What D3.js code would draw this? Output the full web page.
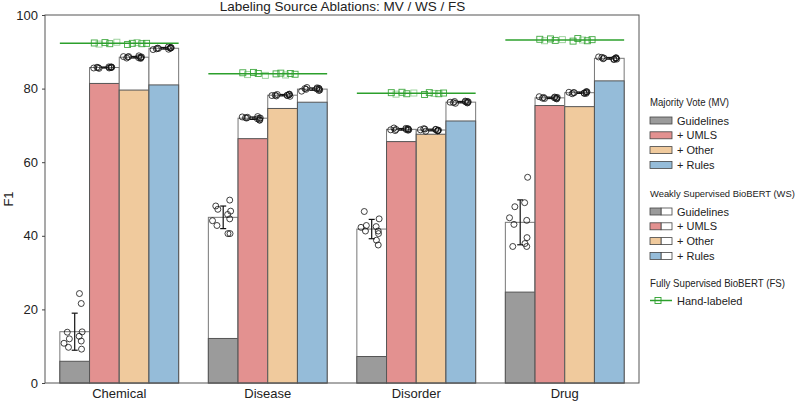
<!DOCTYPE html>
<html><head><meta charset="utf-8">
<script src="https://cdn.jsdelivr.net/npm/d3@7"></script>
<style>body{margin:0;background:#fff}svg{display:block;font-family:"Liberation Sans",Arial,sans-serif}</style>
</head><body><svg id="c" width="799" height="403"></svg>
<script>
const categories = ["Chemical","Disease","Disorder","Drug"];
const sources = ["Guidelines","+ UMLS","+ Other","+ Rules"];
const yTicks = [0,20,40,60,80,100];
// Majority vote F1 per category, per source
const mvValues = [
  [5.9,81.4,79.6,81.0],
  [12.1,66.4,74.6,76.3],
  [7.2,65.6,67.6,71.2],
  [24.7,75.4,75.1,82.1]
];
// Weakly supervised BioBERT runs (10 per bar)
const wsChemical = [
  [24.3,21.6,13.8,13.9,12.0,12.7,10.8,11.4,9.7,9.2],
  [85.8,85.5,85.9,85.6,85.8,85.7,85.9,85.6,85.7,85.8],
  [88.7,88.2,88.6,88.4,88.9,88.5,88.3,88.6,88.7,88.4],
  [91.2,90.7,91.0,90.8,91.1,90.9,91.3,90.6,91.0,91.0]
];
const wsDisease = [
  [49.7,48.1,46.7,47.2,45.8,44.1,44.6,42.8,40.6,40.6],
  [72.2,71.8,72.3,71.5,72.0,71.4,72.4,71.9,72.1,72.0],
  [78.4,78.0,78.5,78.1,78.3,78.2,77.9,78.4,78.2,78.1],
  [80.2,79.5,80.0,79.6,80.3,79.9,79.3,80.1,79.8,79.9]
];
const wsDisorder = [
  [46.6,44.6,42.8,42.5,42.3,41.3,41.3,40.6,38.8,37.5],
  [69.2,68.8,69.1,68.6,69.0,68.9,68.7,69.3,68.8,68.9],
  [69.0,68.6,68.9,68.5,69.1,68.7,68.4,68.9,68.8,68.6],
  [76.5,76.2,76.4,76.0,76.6,76.3,76.1,76.5,76.2,76.4]
];
const wsDrug = [
  [55.9,47.9,49.0,44.9,44.2,43.1,39.5,37.9,37.1,37.1],
  [77.8,77.3,77.6,77.2,77.7,77.5,77.4,77.6,77.3,77.5],
  [79.2,78.7,79.0,78.6,79.1,78.9,78.8,79.0,78.7,78.9],
  [88.5,88.0,88.3,87.9,88.6,88.2,88.1,88.4,88.0,88.3]
];
// Fully supervised BioBERT runs (hand-labeled)
const fsChemical = [92.4,92.1,92.5,92.2,92.6,92.0,92.3,92.5,92.2,92.3];
const fsDisease  = [84.3,83.8,84.4,84.1,83.6,84.0,84.2,83.7,84.1,83.9];
const fsDisorder = [78.9,78.5,79.0,78.6,78.8,78.4,78.9,78.7,78.6,78.8];
const fsDrug     = [93.4,93.0,93.5,93.1,93.3,92.9,93.6,93.2,93.0,93.3];

const wsRuns = [wsChemical, wsDisease, wsDisorder, wsDrug];
const fsRuns = [fsChemical, fsDisease, fsDisorder, fsDrug];

// style constants
const colors = ["#9b9b9b","#e39190","#f0ca9d","#95bcd9"];
const jitterWS = [0.16,0.22,-0.25,0.25,-0.18,0.15,-0.36,0.22,-0.21,0.23];
const jitterFS = [-0.21,-0.17,-0.12,-0.08,-0.02,0.07,0.11,0.15,0.19,0.23];

const svg = d3.select("#c");
const M = {l:45, r:639, t:15, b:383};
const x = d3.scaleBand().domain(categories).range([M.l, M.r]).paddingInner(0.2).paddingOuter(0.1);
const xs = d3.scaleBand().domain(sources).range([0, x.bandwidth()]);
const y = d3.scaleLinear().domain([0,100]).range([M.b, M.t]);

const mean = a => d3.mean(a);
const sd = a => d3.deviation(a);

const g = svg.append("g");
categories.forEach((cat, ci) => {
  const gx = x(cat);
  sources.forEach((src, si) => {
    const bx = gx + xs(src), bw = xs.bandwidth();
    const runs = wsRuns[ci][si];
    const m = mean(runs);
    g.append("rect").attr("x", bx).attr("y", y(m)).attr("width", bw).attr("height", y(0) - y(m))
      .attr("fill", "#fff").attr("stroke", "#777").attr("stroke-width", 1);
    const mv = mvValues[ci][si];
    g.append("rect").attr("x", bx).attr("y", y(mv)).attr("width", bw).attr("height", y(0) - y(mv))
      .attr("fill", colors[si]).attr("stroke", "#555").attr("stroke-width", 1);
  });
});
categories.forEach((cat, ci) => {
  const gx = x(cat);
  sources.forEach((src, si) => {
    const bx = gx + xs(src), bw = xs.bandwidth();
    const cx = bx + bw/2;
    const runs = wsRuns[ci][si];
    const m = mean(runs), s = sd(runs);
    g.selectAll(null).data(runs).enter().append("circle")
      .attr("cx", (d,i) => cx + jitterWS[(i + si*3 + ci) % 10]*bw)
      .attr("cy", d => y(d)).attr("r", 3)
      .attr("fill", "none").attr("stroke", "#111").attr("stroke-width", 0.8);
    g.append("line").attr("x1", cx).attr("x2", cx).attr("y1", y(m - s)).attr("y2", y(m + s))
      .attr("stroke", "#111").attr("stroke-width", 1.2);
    [m - s, m + s].forEach(v => g.append("line").attr("x1", cx - 3).attr("x2", cx + 3)
      .attr("y1", y(v)).attr("y2", y(v)).attr("stroke", "#111").attr("stroke-width", 1.2));
  });
  const fr = fsRuns[ci], fm = mean(fr);
  g.append("line").attr("x1", gx).attr("x2", gx + x.bandwidth()).attr("y1", y(fm)).attr("y2", y(fm))
    .attr("stroke", "#2ca02c").attr("stroke-width", 1.5);
  g.selectAll(null).data(fr).enter().append("rect")
    .attr("x", (d,i) => gx + x.bandwidth()/2 + jitterFS[i]*x.bandwidth() - 3)
    .attr("y", d => y(d) - 3).attr("width", 6).attr("height", 6)
    .attr("fill", "none").attr("stroke", "#2ca02c").attr("stroke-width", 0.9)
    .attr("stroke-opacity", (d,i) => i % 3 === 1 ? 0.5 : 0.9);
});

svg.append("rect").attr("x", M.l).attr("y", M.t).attr("width", M.r - M.l).attr("height", M.b - M.t)
  .attr("fill", "none").attr("stroke", "#555").attr("stroke-width", 1);

const ya = svg.append("g").attr("transform", `translate(${M.l},0)`)
  .call(d3.axisLeft(y).tickValues(yTicks).tickSize(3).tickPadding(4));
ya.select(".domain").remove();
ya.selectAll("text").attr("font-size", 13).attr("fill", "#222").style("font-family", '"Liberation Sans",Arial,sans-serif');
ya.selectAll("line").attr("stroke", "#444");

const xa = svg.append("g").attr("transform", `translate(0,${M.b})`)
  .call(d3.axisBottom(x).tickSize(0).tickPadding(6));
xa.select(".domain").remove();
xa.selectAll("text").attr("font-size", 13).attr("fill", "#222").style("font-family", '"Liberation Sans",Arial,sans-serif');

svg.append("text").attr("x", 342.5).attr("y", 11).attr("text-anchor", "middle")
  .attr("font-size", 13.5).attr("fill", "#222").text("Labeling Source Ablations: MV / WS / FS");
svg.append("text").attr("transform", "translate(13,199) rotate(-90)").attr("text-anchor", "middle")
  .attr("font-size", 13).attr("fill", "#222").text("F1");

const L = svg.append("g");
const lx = 650, tx = 677;
const fs = 11;
L.append("text").attr("x", lx).attr("y", 106).attr("font-size", 10.5).attr("fill", "#222")
  .attr("textLength", 79).attr("lengthAdjust", "spacingAndGlyphs").text("Majority Vote (MV)");
sources.forEach((s, i) => {
  const yy = 120.5 + i*14.8;
  L.append("rect").attr("x", lx).attr("y", yy - 3.5).attr("width", 22).attr("height", 7)
    .attr("fill", colors[i]).attr("stroke", "#444").attr("stroke-width", 0.8);
  L.append("text").attr("x", tx).attr("y", yy + 4).attr("font-size", fs).attr("fill", "#222").text(s);
});
L.append("text").attr("x", lx).attr("y", 197).attr("font-size", 9.4).attr("fill", "#222")
  .text("Weakly Supervised BioBERT (WS)");
sources.forEach((s, i) => {
  const yy = 211.5 + i*14.8;
  L.append("rect").attr("x", lx + 11).attr("y", yy - 3.5).attr("width", 11).attr("height", 7)
    .attr("fill", "#fff").attr("stroke", "#444").attr("stroke-width", 0.8);
  L.append("rect").attr("x", lx).attr("y", yy - 3.5).attr("width", 11).attr("height", 7)
    .attr("fill", colors[i]).attr("stroke", "#444").attr("stroke-width", 0.8);
  L.append("text").attr("x", tx).attr("y", yy + 4).attr("font-size", fs).attr("fill", "#222").text(s);
});
L.append("text").attr("x", lx).attr("y", 287).attr("font-size", 10.5).attr("fill", "#222")
  .attr("textLength", 135).attr("lengthAdjust", "spacingAndGlyphs").text("Fully Supervised BioBERT (FS)");
L.append("line").attr("x1", lx).attr("x2", lx + 22).attr("y1", 300.5).attr("y2", 300.5).attr("stroke", "#2ca02c").attr("stroke-width", 1.5);
L.append("rect").attr("x", lx + 5).attr("y", 297.5).attr("width", 6).attr("height", 6).attr("fill", "none").attr("stroke", "#2ca02c").attr("stroke-width", 0.9);
L.append("text").attr("x", tx).attr("y", 304.5).attr("font-size", fs).attr("fill", "#222").text("Hand-labeled");
</script></body></html>
